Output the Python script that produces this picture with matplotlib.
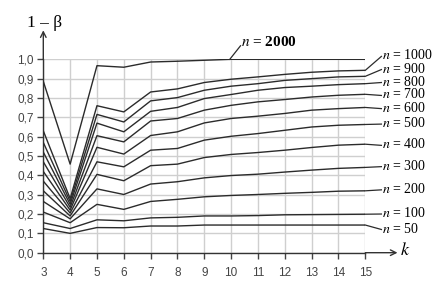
import numpy as np
import matplotlib
matplotlib.use("Agg")
import matplotlib.pyplot as plt

# data: power (1 - beta) vs k, one series per sample size n
k = [3, 4, 5, 6, 7, 8, 9, 10, 11, 12, 13, 14, 15]
sizes = [50, 100, 200, 300, 400, 500, 600, 700, 800, 900, 1000, 2000]
power = {
    50:   [0.125, 0.100, 0.130, 0.129, 0.138, 0.138, 0.143, 0.143, 0.143, 0.143, 0.143, 0.143, 0.143],
    100:  [0.155, 0.125, 0.170, 0.165, 0.180, 0.183, 0.190, 0.190, 0.192, 0.196, 0.197, 0.198, 0.199],
    200:  [0.210, 0.155, 0.250, 0.224, 0.265, 0.276, 0.289, 0.296, 0.301, 0.307, 0.312, 0.318, 0.320],
    300:  [0.265, 0.175, 0.330, 0.301, 0.355, 0.367, 0.387, 0.399, 0.406, 0.417, 0.427, 0.436, 0.441],
    400:  [0.320, 0.190, 0.405, 0.372, 0.450, 0.458, 0.492, 0.508, 0.518, 0.530, 0.544, 0.556, 0.561],
    500:  [0.370, 0.205, 0.470, 0.444, 0.530, 0.539, 0.582, 0.602, 0.616, 0.633, 0.650, 0.659, 0.663],
    600:  [0.420, 0.220, 0.545, 0.510, 0.606, 0.625, 0.671, 0.694, 0.706, 0.720, 0.737, 0.745, 0.751],
    700:  [0.470, 0.235, 0.605, 0.573, 0.681, 0.694, 0.737, 0.762, 0.780, 0.792, 0.805, 0.814, 0.819],
    800:  [0.520, 0.250, 0.670, 0.625, 0.731, 0.751, 0.797, 0.818, 0.840, 0.854, 0.861, 0.869, 0.874],
    900:  [0.570, 0.265, 0.715, 0.676, 0.785, 0.802, 0.840, 0.861, 0.874, 0.891, 0.900, 0.909, 0.912],
    1000: [0.630, 0.280, 0.760, 0.728, 0.831, 0.847, 0.880, 0.897, 0.909, 0.922, 0.933, 0.940, 0.943],
    2000: [0.886, 0.458, 0.967, 0.959, 0.986, 0.990, 0.995, 1.000, 1.000, 1.000, 1.000, 1.000, 1.000],
}
y_ticks = [0.0, 0.1, 0.2, 0.3, 0.4, 0.5, 0.6, 0.7, 0.8, 0.9, 1.0]

# where the right-hand labels sit (y of text centre)
label_y = {50: 0.125, 100: 0.205, 200: 0.33, 300: 0.45, 400: 0.56, 500: 0.67,
           600: 0.75, 700: 0.818, 800: 0.885, 900: 0.952, 1000: 1.02}

plt.rcParams["mathtext.fontset"] = "stix"
plt.rcParams["font.family"] = "Liberation Sans"

fig = plt.figure(figsize=(4.4, 3.04), dpi=100)
ax = fig.add_axes([43.3 / 440, 51.3 / 304, 322 / 440, 193.4 / 304])

line_col = "#2b2b2b"
for n in sizes:
    ax.plot(k, power[n], color=line_col, lw=1.0, zorder=3)

ax.set_xlim(3, 15)
ax.set_ylim(0, 1.0)
ax.set_xticks(k)
ax.set_yticks(y_ticks)
ax.set_yticklabels([f"{v:.1f}".replace(".", ",") for v in y_ticks])
ax.grid(True, color="#cfcfcf", lw=1.0, zorder=0)
ax.tick_params(labelsize=8.5, colors="#444444", length=4, width=1, direction="out", pad=3)
ax.tick_params(axis="x", pad=6)
for s in ["top", "right"]:
    ax.spines[s].set_visible(False)
for s in ["left", "bottom"]:
    ax.spines[s].set_color("#333333")
    ax.spines[s].set_linewidth(1.0)

# axis arrows
ax.annotate("", xy=(3, 1.15), xytext=(3, 1.0), annotation_clip=False,
            arrowprops=dict(arrowstyle="->", color="#333333", lw=1.0, shrinkA=0, shrinkB=0))
ax.annotate("", xy=(16.2, 0), xytext=(15, 0), annotation_clip=False,
            arrowprops=dict(arrowstyle="->", color="#333333", lw=1.0, shrinkA=0, shrinkB=0))
ax.text(3.05, 1.19, "1 \u2013 \u03b2", fontsize=12.5, family="Liberation Serif",
        ha="center", va="center", clip_on=False)
ax.text(16.3, 0.01, "$k$", fontsize=13, ha="left", va="center", clip_on=False)

# right-hand labels with leader lines
for n in sizes[:-1]:
    y_end = power[n][-1]
    ly = label_y[n]
    ax.plot([15, 15.6], [y_end, ly - 0.005], color=line_col, lw=0.9, clip_on=False)
    ax.text(15.62, ly, f"$n$ = {n}", fontsize=10, family="Liberation Serif",
            ha="left", va="center", clip_on=False)

# n = 2000 label above the top curve
ax.plot([9.95, 10.35], [1.0, 1.07], color=line_col, lw=0.9, clip_on=False)
ax.text(10.35, 1.09, "$n$ = 2000", fontsize=11, family="Liberation Serif",
        fontweight="bold", ha="left", va="center", clip_on=False)

fig.savefig("out.png", dpi=100)
